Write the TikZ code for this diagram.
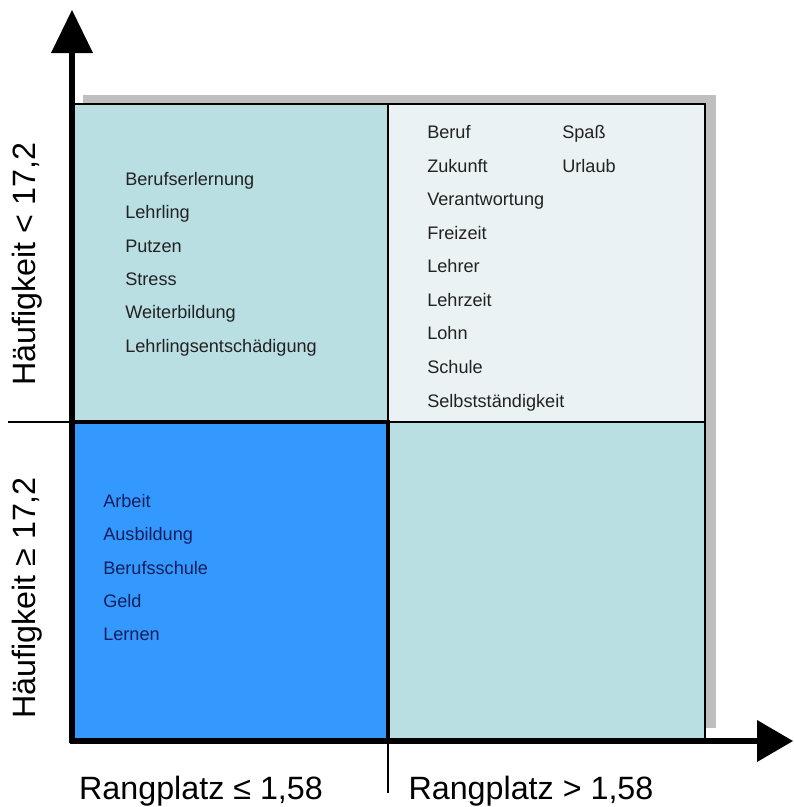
\documentclass[tikz,border=0pt]{standalone}
\usepackage{fontspec}
\setmainfont{Liberation Sans}
\definecolor{quadteal}{RGB}{185,223,227}
\definecolor{quadpale}{RGB}{234,242,244}
\definecolor{quadblue}{RGB}{51,153,255}
\definecolor{shadowgray}{RGB}{191,191,191}
\definecolor{wordgray}{RGB}{34,34,34}
\definecolor{wordnavy}{RGB}{20,30,90}
\begin{document}
\begin{tikzpicture}[x=0.75pt,y=-0.75pt,
  word/.style={anchor=base west, inner sep=0pt, text=wordgray,
    font=\fontsize{13.6}{16}\selectfont},
  blueword/.style={word, text=wordnavy},
  axislabel/.style={inner sep=0pt, font=\fontsize{24.2}{29}\selectfont},
  thinrule/.style={line width=0.9pt, black},
  axisline/.style={line width=5pt, black}]
\useasboundingbox (0,0) rectangle (793,807);

% drop shadow behind the quadrant block
\fill[shadowgray] (83,95) rectangle (716,728);

% quadrants
\fill[quadteal] (73,104) rectangle (388,422);
\fill[quadpale] (388,104) rectangle (705,422);
\fill[quadteal] (388,422) rectangle (705,741);
\draw[thinrule] (73,104) rectangle (705,741);

% dividing lines, running past the block
\draw[thinrule] (388,104) -- (388,793);
\draw[thinrule] (8,422) -- (705,422);

% highlighted quadrant
\fill[quadblue] (73,422) rectangle (388,741);
\draw[line width=3pt, black] (73,422) rectangle (388,741);

% axes with arrow heads
\draw[axisline] (72,743) -- (72,50);
\fill[black] (72,10) -- (51,53) -- (93,53) -- cycle;
\draw[axisline] (70,741) -- (760,741);
\fill[black] (793,741) -- (757,720) -- (757,762) -- cycle;

% axis labels
\node[axislabel, rotate=90] (ylo) at (27,264) {Häufigkeit < 17,2};
\node[axislabel, rotate=90] (yhi) at (27,598) {Häufigkeit ≥ 17,2};
\node[axislabel, anchor=base] (xlo) at (201,799) {Rangplatz ≤ 1,58};
\node[axislabel, anchor=base] (xhi) at (531,799) {Rangplatz > 1,58};

% upper left quadrant
\node[word] (w11) at (125,185) {Berufserlernung};
\node[word] (w12) at (125,218) {Lehrling};
\node[word] (w13) at (125,252) {Putzen};
\node[word] (w14) at (125,285) {Stress};
\node[word] (w15) at (125,318) {Weiterbildung};
\node[word] (w16) at (125,352) {Lehrlingsentschädigung};

% upper right quadrant
\node[word] (w21) at (427,138) {Beruf};
\node[word] (w22) at (427,172) {Zukunft};
\node[word] (w23) at (427,205) {Verantwortung};
\node[word] (w24) at (427,239) {Freizeit};
\node[word] (w25) at (427,272) {Lehrer};
\node[word] (w26) at (427,306) {Lehrzeit};
\node[word] (w27) at (427,339) {Lohn};
\node[word] (w28) at (427,373) {Schule};
\node[word] (w29) at (427,407) {Selbstständigkeit};
\node[word] (w2a) at (562,138) {Spaß};
\node[word] (w2b) at (562,172) {Urlaub};

% lower left quadrant
\node[blueword] (w31) at (103,507) {Arbeit};
\node[blueword] (w32) at (103,540) {Ausbildung};
\node[blueword] (w33) at (103,574) {Berufsschule};
\node[blueword] (w34) at (103,607) {Geld};
\node[blueword] (w35) at (103,640) {Lernen};
\end{tikzpicture}
\end{document}
